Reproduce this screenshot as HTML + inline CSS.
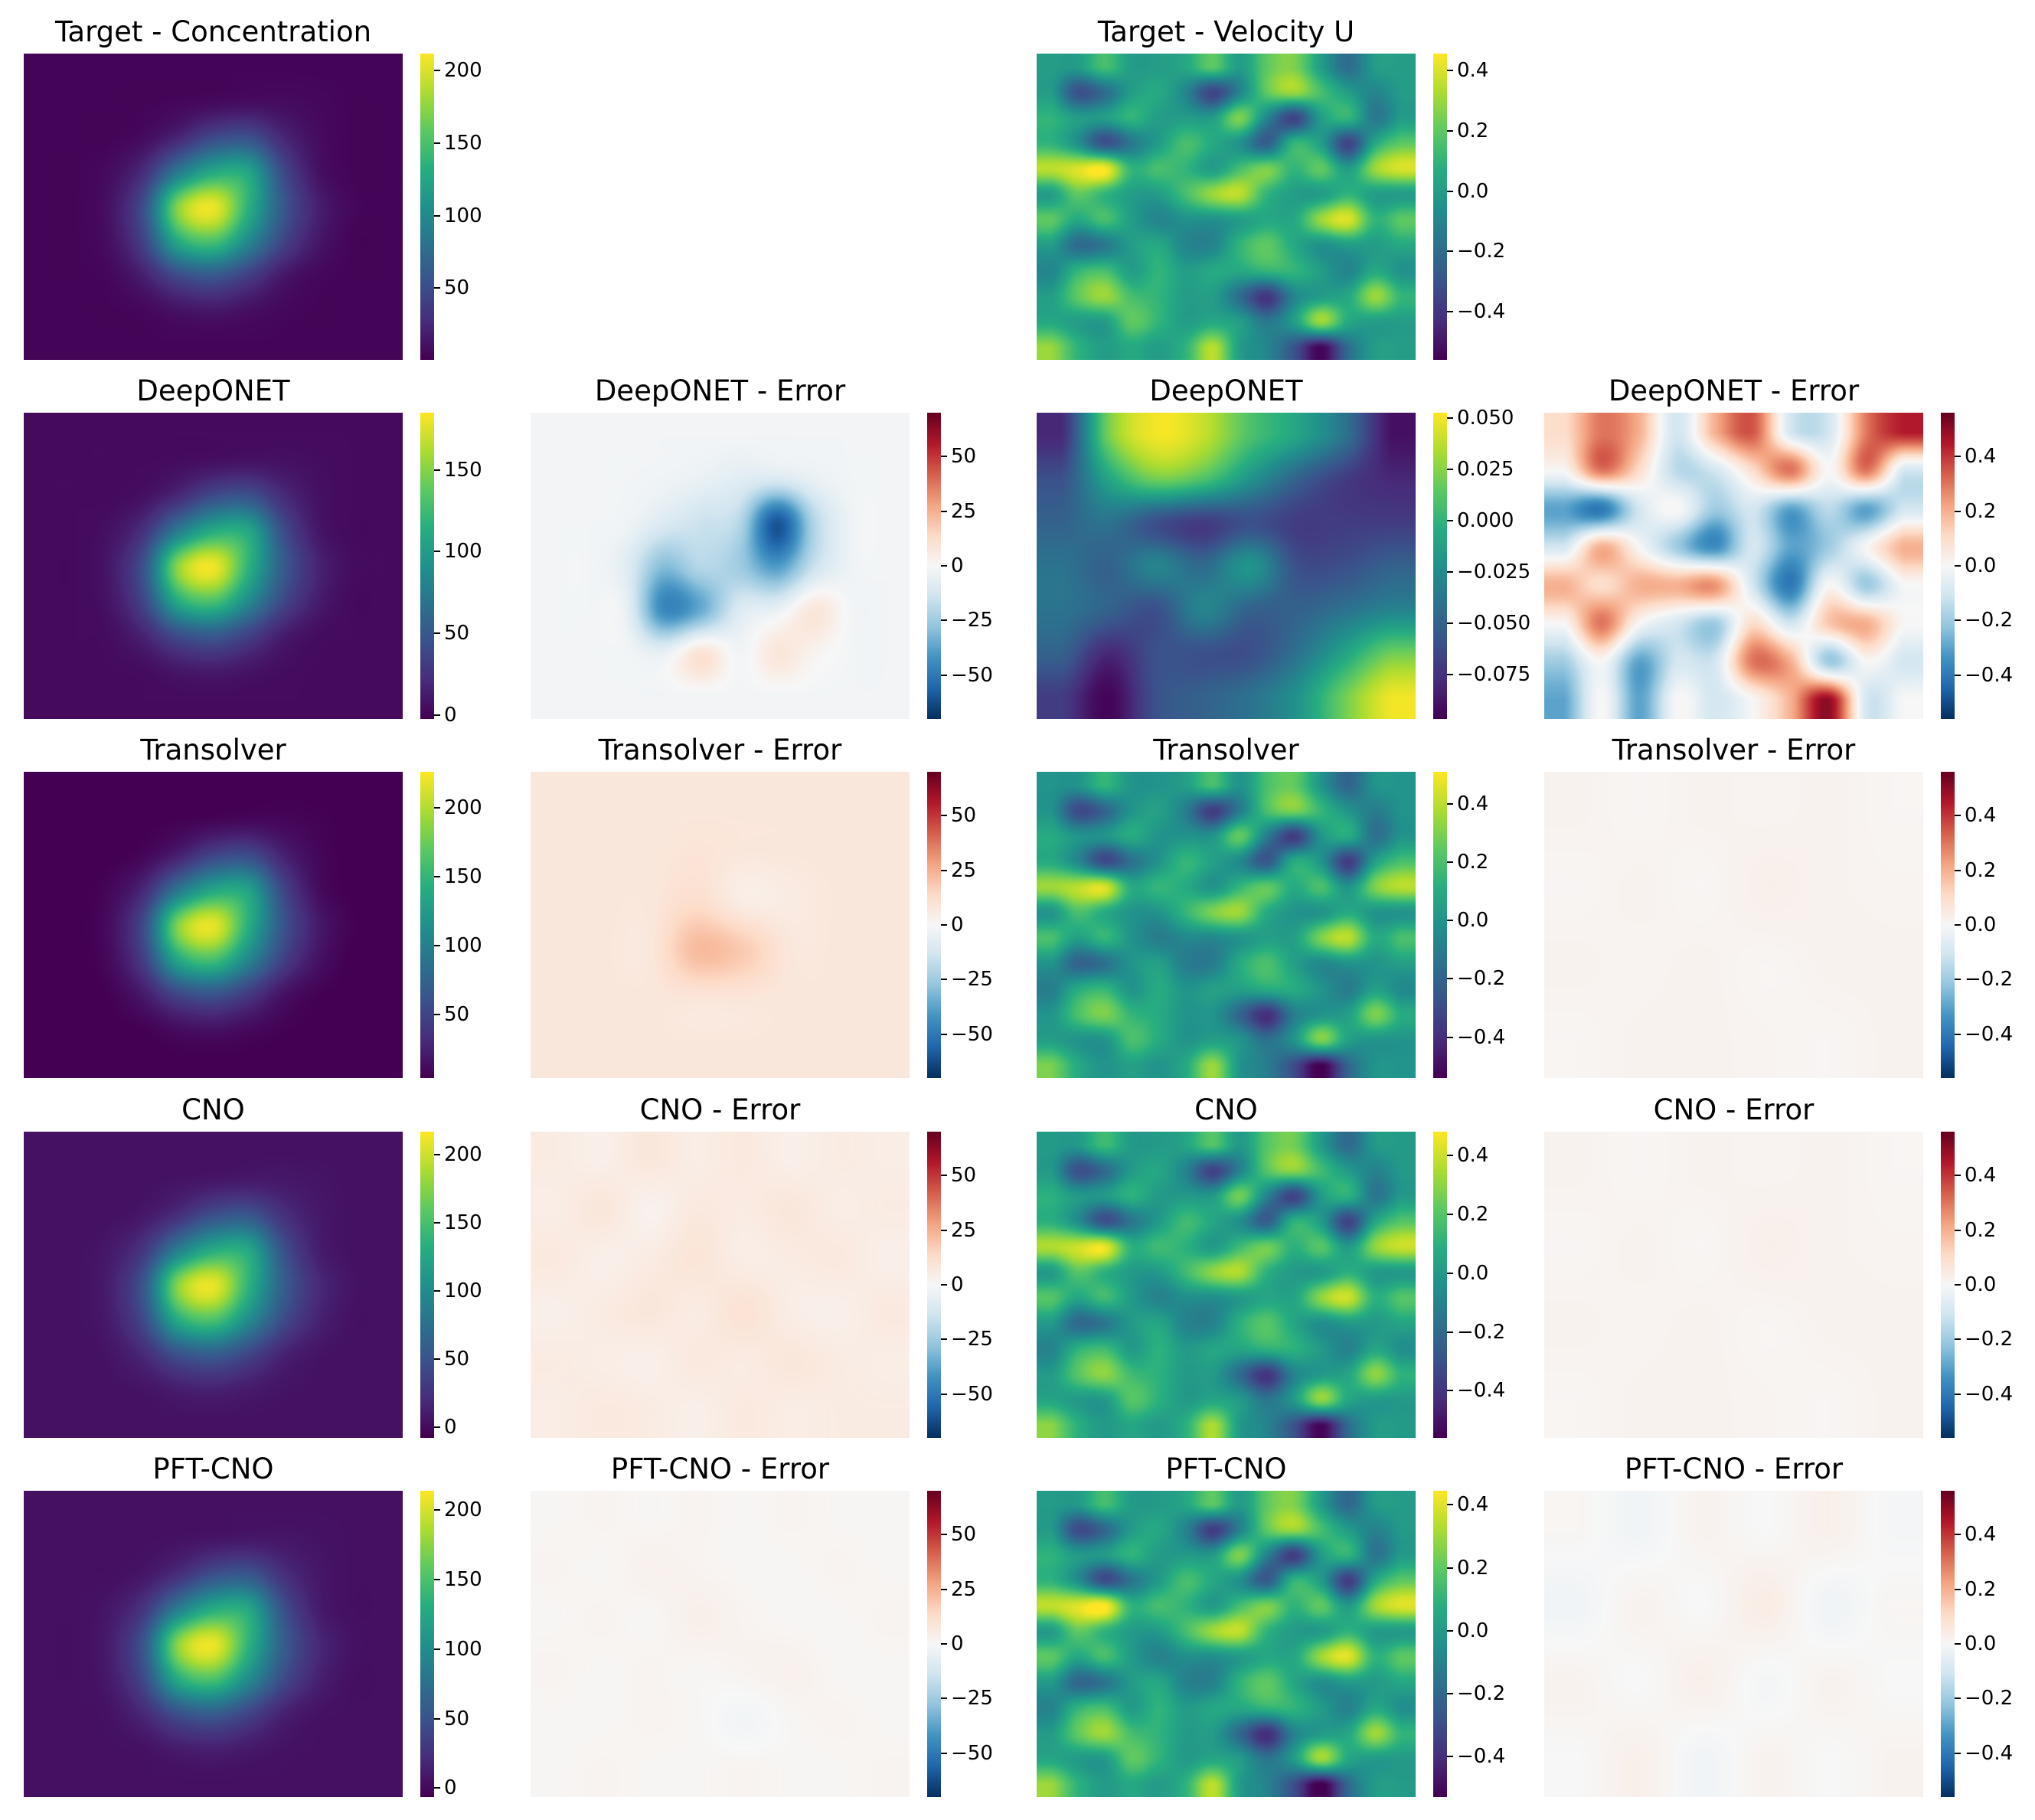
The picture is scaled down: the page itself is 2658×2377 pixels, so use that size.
<!DOCTYPE html>
<html><head><meta charset="utf-8">
<style>
body{margin:0;background:#fff;width:2658px;height:2377px;overflow:hidden;position:relative;font-family:"DejaVu Sans","Liberation Sans",sans-serif}
.t{position:absolute;font-size:37px;color:#000;text-align:center;width:700px;white-space:nowrap}
.tk{position:absolute;font-size:26px;color:#000;white-space:nowrap;line-height:26px}
.tl{position:absolute;height:2px;width:8px;background:#000}
canvas{position:absolute}
</style></head><body>
<div id="root"></div>
<script>
// ---- data ----
const concTarget=[
[3,3,3,3,3,3,3,3,3,3,3],
[3,3,3,3,5,8,10,8,5,3,3],
[3,3,3,8,25,50,55,25,8,3,3],
[3,3,8,30,90,130,125,50,12,3,3],
[3,3,12,55,175,205,135,60,20,5,3],
[3,3,10,45,130,150,100,45,15,3,3],
[3,3,5,20,50,60,40,15,5,3,3],
[3,3,3,5,12,15,10,5,3,3,3],
[3,3,3,3,3,3,3,3,3,3,3]];
const velTarget=[
[0,0,0.15,0,0,0.05,0.2,0,0.2,0.25,0,-0.2,0,0],
[0,-0.3,-0.2,0,0.05,-0.1,-0.35,-0.1,0.2,0.3,0.15,0,-0.1,0],
[0.1,0,0,0.1,0,0,0,0.25,-0.1,-0.35,0,0.1,-0.15,0],
[0.1,-0.05,-0.3,-0.15,0,0.15,0.05,-0.05,-0.25,0.1,0,-0.35,0.05,0.2],
[0.35,0.4,0.45,0.1,0.15,0.1,0,0.15,0.25,0.1,0.2,0,0.3,0.4],
[0,0.2,0.1,0,0,0.15,0.3,0.35,0.1,0,0,0.1,0,0],
[0.2,0.05,0.15,0,-0.1,-0.05,-0.05,0,0.05,0.05,0.3,0.4,0.1,0.2],
[0,-0.2,-0.15,0,0.05,-0.1,-0.1,0.1,0.2,0.05,-0.05,0,0,0.05],
[-0.1,0.1,0.15,0,0.1,0,0.05,0.05,0.1,0.1,0,-0.1,0.05,-0.05],
[0,0.2,0.3,0.15,0.1,0,0,-0.2,-0.4,-0.1,0,0.05,0.3,0.1],
[0.05,0,0,0.2,0.1,0,0.05,0,-0.15,0,0.3,0.05,0,0],
[0.3,0.1,0,0.05,0,0.1,0.35,0,-0.1,-0.3,-0.55,-0.2,0,0]];
const velDeepONet=[
[-0.08,0.02,0.05,0.04,0.01,-0.01,-0.04,-0.09],
[-0.06,-0.01,0.02,0.01,-0.02,-0.05,-0.07,-0.08],
[-0.05,-0.04,-0.06,-0.07,-0.06,-0.07,-0.07,-0.07],
[-0.04,-0.05,-0.03,-0.045,-0.02,-0.06,-0.06,-0.05],
[-0.04,-0.05,-0.06,-0.03,-0.05,-0.05,-0.04,-0.03],
[-0.05,-0.08,-0.06,-0.06,-0.06,-0.04,-0.01,0.02],
[-0.07,-0.095,-0.06,-0.05,-0.04,-0.02,0.02,0.05]];
const velErrDeepONet=[
[0.1,0.3,0.2,-0.1,0.2,0.35,-0.1,-0.1,0.3,0.45],
[0,0.3,0.1,-0.15,-0.1,0.1,0.3,0,0.3,-0.1],
[-0.3,-0.4,-0.1,0,-0.2,-0.1,-0.3,-0.15,-0.3,-0.1],
[-0.1,0.2,0,-0.2,-0.35,-0.1,-0.3,-0.2,0,0.2],
[0.2,0.1,0.2,0.2,0.25,-0.1,-0.4,0,-0.2,0],
[0,0.3,0,-0.1,-0.2,0.1,-0.1,0.15,0.2,0],
[-0.2,0,-0.3,-0.1,-0.1,0.3,0.2,-0.2,0,-0.1],
[-0.3,0,-0.3,0,-0.1,0,0.2,0.5,-0.1,0]];
const concErrDeepONet=[
[-2,-2,-2,-2,-2,-2,-2,-2,-2,-2],
[-2,-2,-2,-3,-5,-8,-10,-5,-2,-2],
[-2,-2,-3,-10,-15,-20,-60,-20,-3,-2],
[-2,-2,-8,-30,-20,-25,-40,-15,-3,-2],
[-2,-2,-5,-45,-35,-10,-5,8,-2,-2],
[-2,-2,-2,-5,10,-2,8,2,-2,-2],
[-2,-2,-2,-2,-2,-2,-2,-2,-2,-2]];
const concErrTransolver=[
[8,8,8,8,8,8,8,8],[8,8,8,9,8,8,8,8],[8,8,8,12,5,6,8,8],[8,8,8,22,18,8,8,8],[8,8,8,8,8,8,8,8],[8,8,8,8,8,8,8,8]];
const concErrCNO=[
[6,4,8,5,7,4,6,5],[5,8,3,7,6,8,5,6],[7,4,6,9,5,6,7,4],[4,6,8,6,10,5,4,7],[6,5,4,7,6,8,6,5],[5,7,6,4,7,5,6,6]];
const concErrPFT=[
[1,2,1,2,1,2,1,1],[2,1,3,2,1,1,2,1],[1,2,1,4,2,1,1,2],[2,1,2,1,2,3,1,1],[1,1,2,1,-2,1,2,1],[1,2,1,1,2,1,1,2]];
const velErrSmall=[
[0.02,0.01,0.02,0.015,0.02,0.01],[0.01,0.02,0.01,0.03,0.02,0.015],[0.02,0.015,0.02,0.01,0.02,0.02],[0.01,0.02,0.02,0.015,0.01,0.02]];
const velErrPFT=[
[0.01,-0.02,0.02,0,0.03,-0.01],[-0.02,0.02,0,0.04,-0.02,0.01],[0.02,0,0.03,-0.01,0.02,0],[0,0.03,-0.02,0.02,0,0.02]];
const concScales=[1,0.88,1.06,1.02,1.01];
const concRanges=[[0.5,211.7],[-2.4,185],[3.8,226],[-7.6,217],[-6.5,214]];
const concTicks=[[50,100,150,200],[0,50,100,150],[50,100,150,200],[0,50,100,150,200],[0,50,100,150,200]];
const velRanges=[[-0.56,0.456],[-0.0965,0.0525],[-0.54,0.51],[-0.56,0.48],[-0.528,0.445]];
const velTicks=[[-0.4,-0.2,0,0.2,0.4],[-0.075,-0.05,-0.025,0,0.025,0.05],[-0.4,-0.2,0,0.2,0.4],[-0.4,-0.2,0,0.2,0.4],[-0.4,-0.2,0,0.2,0.4]];
const errConcTicks=[-50,-25,0,25,50];
const errVelTicks=[-0.4,-0.2,0,0.2,0.4];
const modelNames=["Target","DeepONET","Transolver","CNO","PFT-CNO"];

// ---- layout ----
const colX=[31,693,1354,2017], rowY=[70,539,1008,1478,1947], PW=495, PH=400;
const viridis=["#440154","#472d7b","#3b528b","#2c728e","#21918c","#28ae80","#5ec962","#addc30","#fde725"];
const rdbu=["#053061","#2166ac","#4393c3","#92c5de","#d1e5f0","#f7f7f7","#fddbc7","#f4a582","#d6604d","#b2182b","#67001f"];
function hx(h){return [parseInt(h.substr(1,2),16),parseInt(h.substr(3,2),16),parseInt(h.substr(5,2),16)];}
const VIR=viridis.map(hx), RDB=rdbu.map(hx);
function cmap(A,t){t=Math.max(0,Math.min(1,t));const f=t*(A.length-1);const i=Math.min(A.length-2,Math.floor(f));const u=f-i;return [0,1,2].map(k=>A[i][k]+(A[i+1][k]-A[i][k])*u);}
function cr(p0,p1,p2,p3,t){return 0.5*(2*p1+(-p0+p2)*t+(2*p0-5*p1+4*p2-p3)*t*t+(-p0+3*p1-3*p2+p3)*t*t*t);}
function sample(g,x,y){const R=g.length,C=g[0].length;let fx=x*C-0.5,fy=y*R-0.5;fx=Math.max(0,Math.min(C-1,fx));fy=Math.max(0,Math.min(R-1,fy));
 const i=Math.min(R-2,Math.floor(fy)),j=Math.min(C-2,Math.floor(fx));const u=fy-i,v=fx-j;
 const gi=k=>g[Math.max(0,Math.min(R-1,k))];const gj=(row,k)=>row[Math.max(0,Math.min(C-1,k))];
 const rows=[-1,0,1,2].map(d=>{const row=gi(i+d);return cr(gj(row,j-1),gj(row,j),gj(row,j+1),gj(row,j+2),v);});
 return cr(rows[0],rows[1],rows[2],rows[3],u);}
const root=document.getElementById('root');
function heat(name,x,y,grid,scale,lo,hi,A){
 const c=document.createElement('canvas');c.width=PW;c.height=PH;c.style.left=x+'px';c.style.top=y+'px';
 
 
 const ctx=c.getContext('2d');const im=ctx.createImageData(PW,PH);
 for(let py=0;py<PH;py++)for(let px=0;px<PW;px++){const v=sample(grid,px/PW,py/PH)*scale;const col=cmap(A,(v-lo)/(hi-lo));const o=(py*PW+px)*4;im.data[o]=col[0];im.data[o+1]=col[1];im.data[o+2]=col[2];im.data[o+3]=255;}
 ctx.putImageData(im,0,0);root.appendChild(c);}
function fmt(v,ticks){const s=ticks.some(t=>Math.abs(t)<0.1&&t!==0)?v.toFixed(3):(ticks.some(t=>t%1!==0)?v.toFixed(1):String(v));return s.replace('-','\u2212');}
function cbar(name,x,y,lo,hi,ticks,A){
 const c=document.createElement('canvas');c.width=18;c.height=PH;c.style.left=x+'px';c.style.top=y+'px';
 
 
 const ctx=c.getContext('2d');for(let py=0;py<PH;py++){const col=cmap(A,1-py/(PH-1));ctx.fillStyle=`rgb(${col[0]|0},${col[1]|0},${col[2]|0})`;ctx.fillRect(0,py,18,1);}root.appendChild(c);
 ticks.forEach(t=>{const ty=y+(hi-t)/(hi-lo)*PH;
  const l=document.createElement('div');l.className='tl';l.style.left=(x+18)+'px';l.style.top=(ty-1)+'px';
  
  root.appendChild(l);
  const d=document.createElement('div');d.className='tk';d.style.left=(x+31)+'px';d.style.top=(ty-13)+'px';d.textContent=fmt(t,ticks);
  
  root.appendChild(d);});}
function title(txt,x,y){const d=document.createElement('div');d.className='t';d.style.left=(x+PW/2-350)+'px';d.style.top=(y-50)+'px';d.textContent=txt;
 
 root.appendChild(d);}
const concErrs=[null,concErrDeepONet,concErrTransolver,concErrCNO,concErrPFT];
const velGrids=[velTarget,velDeepONet,velTarget,velTarget,velTarget];
const velErrs=[null,velErrDeepONet,velErrSmall,velErrSmall,velErrPFT];
for(let r=0;r<5;r++){
 const y=rowY[r],nm=modelNames[r];
 title(r===0?"Target - Concentration":nm,colX[0],y);
 heat('concentration-map',colX[0],y,concTarget,concScales[r],concRanges[r][0],concRanges[r][1],VIR);
 cbar('concentration-colorbar',colX[0]+518,y,concRanges[r][0],concRanges[r][1],concTicks[r],VIR);
 title(r===0?"Target - Velocity U":nm,colX[2],y);
 heat('velocity-map',colX[2],y,velGrids[r],1,velRanges[r][0],velRanges[r][1],VIR);
 cbar('velocity-colorbar',colX[2]+518,y,velRanges[r][0],velRanges[r][1],velTicks[r],VIR);
 if(r>0){
  title(nm+" - Error",colX[1],y);
  heat('concentration-error-map',colX[1],y,concErrs[r],1,-70,70,RDB);
  cbar('concentration-error-colorbar',colX[1]+518,y,-70,70,errConcTicks,RDB);
  title(nm+" - Error",colX[3],y);
  heat('velocity-error-map',colX[3],y,velErrs[r],1,-0.56,0.56,RDB);
  cbar('velocity-error-colorbar',colX[3]+518,y,-0.56,0.56,errVelTicks,RDB);
 }
}
</script>
</body></html>
